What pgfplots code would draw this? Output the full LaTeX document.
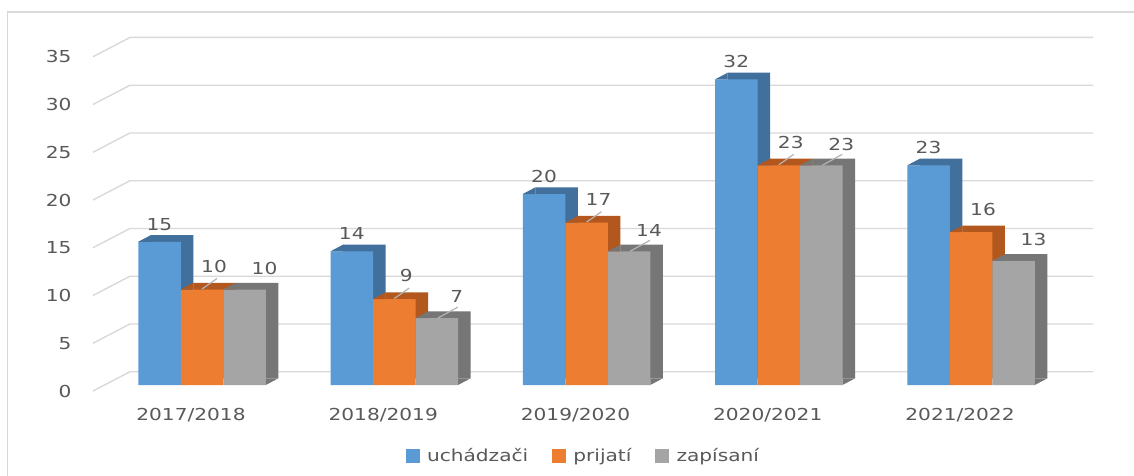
\documentclass[border=0pt]{standalone}
\usepackage{fontspec}
\setmainfont{DejaVu Sans}[FakeStretch=1.22]
\usepackage{pgfplots}
\pgfplotsset{compat=1.18}
\definecolor{cBlue}{HTML}{5B9BD5}
\definecolor{cBlueD}{HTML}{41709C}
\definecolor{cOrange}{HTML}{ED7D31}
\definecolor{cOrangeD}{HTML}{B2581E}
\definecolor{cGray}{HTML}{A5A5A5}
\definecolor{cGrayD}{HTML}{767676}
\definecolor{cText}{HTML}{595959}
\definecolor{cGrid}{HTML}{D9D9D9}
\definecolor{cLeader}{HTML}{B4B4B4}
\newcommand\lbl{\fontsize{16.5pt}{19pt}\selectfont}
\pgfdeclareplotmark{ldrO}{\pgfpathmoveto{\pgfpoint{0pt}{0.5pt}}\pgfpathlineto{\pgfpoint{15pt}{11pt}}\pgfusepathqstroke}
\pgfdeclareplotmark{ldrG}{\pgfpathmoveto{\pgfpoint{1pt}{0pt}}\pgfpathlineto{\pgfpoint{21pt}{11pt}}\pgfusepathqstroke}
% top-left corner of top face
\pgfdeclareplotmark{triTL}{\pgfpathmoveto{\pgfpoint{-21.25pt}{0pt}}\pgfpathlineto{\pgfpoint{-8.55pt}{6.7pt}}\pgfpathlineto{\pgfpoint{-8.55pt}{0pt}}\pgfpathclose\pgfusepathqfill}
% bottom-right corner of side face
\pgfdeclareplotmark{triBR}{\pgfpathmoveto{\pgfpoint{21.25pt}{0pt}}\pgfpathlineto{\pgfpoint{21.25pt}{6.7pt}}\pgfpathlineto{\pgfpoint{33.95pt}{6.7pt}}\pgfpathclose\pgfusepathqfill}
\begin{document}
\begin{tikzpicture}[x=1pt,y=1pt]
\useasboundingbox (0,0) rectangle (1134,475);
\fill[white] (0,0) rectangle (1134,475);
\draw[cGrid, line width=1.5pt] (7.5,-5) -- (7.5,463) -- (1140,463);
\begin{axis}[
  at={(77.04pt,90pt)}, anchor=south west,
  x=192.25pt, y=9.55pt,
  xmin=-0.65, xmax=4.65, ymin=0, ymax=37,
  clip=false,
  axis line style={draw=none},
  major tick length=0pt,
  /pgf/number format/assume math mode=true,
  xtick={0,1,2,3,4},
  xticklabels={2017/2018,2018/2019,2019/2020,2020/2021,2021/2022},
  ytick={0,5,...,35},
  ticklabel style={font=\lbl, text=cText},
  yticklabel style={anchor=east, inner sep=0pt, text height=12pt, text depth=0pt, xshift=-5.3pt, yshift=-6pt},
  xticklabel style={anchor=center, inner sep=0pt, text height=12pt, text depth=0pt, xshift=-11pt, yshift=-29.5pt},
  legend style={at={(0.496,-0.2)}, anchor=center, draw=none, fill=none,
    font=\lbl, text=cText,
    /tikz/every odd column/.append style={column sep=8pt},
    /tikz/every even column/.append style={column sep=24pt},
    nodes={inner sep=0pt, text height=12pt, text depth=0pt}},
  legend columns=3,
  legend cell align=left,
]
% back-wall grid lines
\pgfplotsinvokeforeach{0,5,...,35}{
  \draw[cGrid, line width=1.4pt] ([yshift=-6pt]axis cs:-0.567,#1) -- ([yshift=13.3pt]axis cs:-0.3745,#1) -- ([yshift=13.3pt]axis cs:4.635,#1);
}
% legend images
\addlegendimage{legend image code/.code={\fill[cBlue] (0pt,-6.35pt) rectangle (12.7pt,6.35pt);}}
\addlegendentry{uchádzači}
\addlegendimage{legend image code/.code={\fill[cOrange] (0pt,-6.35pt) rectangle (12.7pt,6.35pt);}}
\addlegendentry{prijatí}
\addlegendimage{legend image code/.code={\fill[cGray] (0pt,-6.35pt) rectangle (12.7pt,6.35pt);}}
\addlegendentry{zapísaní}
% uchadzaci
\addplot[forget plot, ybar, bar width=42.5pt, bar shift=-29.8pt, yshift=6.7pt, fill=cBlueD, draw=none]
  coordinates {(0,15) (1,14) (2,20) (3,32) (4,23)};
\addplot[forget plot, only marks, mark=triTL, mark options={fill=cBlueD, draw=none}, xshift=-42.5pt]
  coordinates {(0,15) (1,14) (2,20) (3,32) (4,23)};
\addplot[forget plot, ybar, bar width=42.5pt, bar shift=-42.5pt, fill=cBlue, draw=none,
  nodes near coords,
  every node near coord/.append style={font=\lbl, text=cText, anchor=south, inner sep=0pt, text height=12pt, text depth=0pt, xshift=-42.5pt, yshift=11.5pt}]
  coordinates {(0,15) (1,14) (2,20) (3,32) (4,23)};
% prijati
\addplot[forget plot, ybar, bar width=42.5pt, bar shift=12.7pt, yshift=6.7pt, fill=cOrangeD, draw=none]
  coordinates {(0,10) (1,9) (2,17) (3,23) (4,16)};
\addplot[forget plot, only marks, mark=triTL, mark options={fill=cOrangeD, draw=none}]
  coordinates {(0,10) (1,9) (2,17) (3,23) (4,16)};
\addplot[forget plot, ybar, bar width=42.5pt, bar shift=0pt, fill=cOrange, draw=none,
  nodes near coords,
  every node near coord/.append style={font=\lbl, text=cText, anchor=south, inner sep=0pt, text height=12pt, text depth=0pt, xshift=12pt, yshift=17pt}]
  coordinates {(0,10) (1,9) (2,17) (3,23) (4,16)};
% zapisani
\addplot[forget plot, ybar, bar width=42.5pt, bar shift=55.2pt, yshift=6.7pt, fill=cGrayD, draw=none]
  coordinates {(0,10) (1,7) (2,14) (3,23) (4,13)};
\addplot[forget plot, only marks, mark=triTL, mark options={fill=cGrayD, draw=none}, xshift=42.5pt]
  coordinates {(0,10) (1,7) (2,14) (3,23) (4,13)};
\addplot[forget plot, only marks, mark=triBR, mark options={fill=cGrayD, draw=none}, xshift=42.5pt]
  coordinates {(0,0) (1,0) (2,0) (3,0) (4,0)};
\addplot[forget plot, ybar, bar width=42.5pt, bar shift=42.5pt, fill=cGray, draw=none,
  nodes near coords,
  every node near coord/.append style={font=\lbl, text=cText, anchor=south, inner sep=0pt, text height=12pt, text depth=0pt, xshift=62.5pt, yshift=15pt}]
  coordinates {(0,10) (1,7) (2,14) (3,23) (4,13)};
% leader lines
\addplot[forget plot, only marks, mark=ldrO, mark options={draw=cLeader, line width=1.2pt}]
  coordinates {(0,10) (1,9) (2,17) (3,23)};
\addplot[forget plot, only marks, mark=ldrG, mark options={draw=cLeader, line width=1.2pt}, xshift=42.5pt]
  coordinates {(1,7) (2,14) (3,23)};
\end{axis}
\end{tikzpicture}
\end{document}
